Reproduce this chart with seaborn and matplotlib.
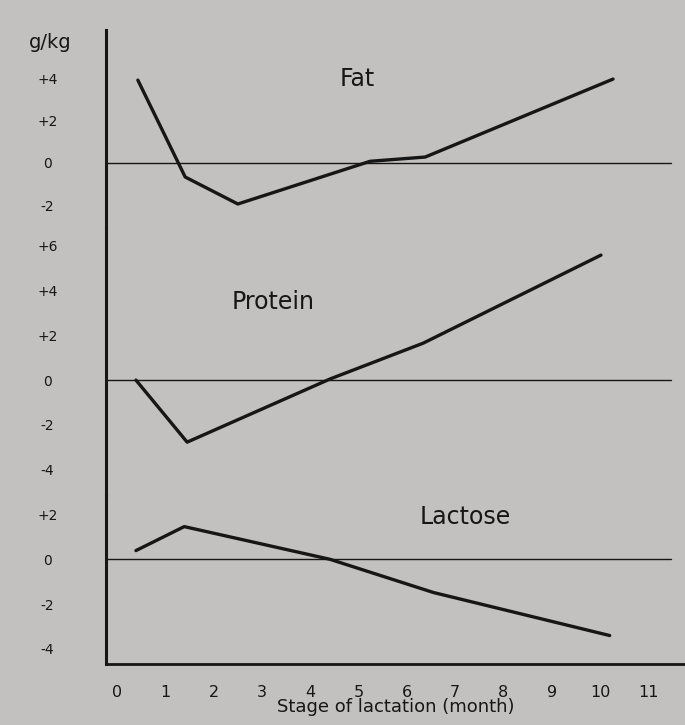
import matplotlib
matplotlib.use("Agg")
import matplotlib.pyplot as plt
import pandas as pd
import seaborn as sns

# ---- data ----
fat_months = [0.43, 1.41, 2.5, 5.24, 6.38, 10.27]
fat_values = [3.9, -0.66, -1.93, 0.08, 0.28, 3.95]

protein_months = [0.39, 1.45, 4.41, 6.34, 10.02]
protein_values = [0.0, -2.77, 0.05, 1.65, 5.58]

lactose_months = [0.39, 1.39, 4.41, 6.55, 10.2]
lactose_values = [0.39, 1.46, 0.0, -1.48, -3.4]

x_ticks = list(range(12))
x_tick_labels = [str(v) for v in x_ticks]

fat_ticks = [4, 2, 0, -2]
fat_tick_labels = ["+4", "+2", "0", "-2"]
protein_ticks = [6, 4, 2, 0, -2, -4]
protein_tick_labels = ["+6", "+4", "+2", "0", "-2", "-4"]
lactose_ticks = [2, 0, -2, -4]
lactose_tick_labels = ["+2", "0", "-2", "-4"]

panel_names = ["Fat", "Protein", "Lactose"]

# ---- style ----
sns.set_theme(style="white")
plt.rcParams["font.family"] = ["DejaVu Sans"]
bg = "#c3c1bf"
ink = "#161616"

fig = plt.figure(figsize=(6.85, 7.25), dpi=100, facecolor=bg)
gs = fig.add_gridspec(3, 1, height_ratios=[198, 267, 169], hspace=0,
                      left=106 / 685, right=1.0, top=1 - 30 / 725, bottom=1 - 664 / 725)
axes = [fig.add_subplot(gs[i]) for i in range(3)]

panels = [
    (fat_months, fat_values, fat_ticks, fat_tick_labels, (-3.06, 6.26), (4.97, 3.95)),
    (protein_months, protein_values, protein_ticks, protein_tick_labels, (-5.13, 6.79), (3.23, 3.48)),
    (lactose_months, lactose_values, lactose_ticks, lactose_tick_labels, (-4.67, 2.87), (7.2, 1.88)),
]

for i, (ax, (mx, vy, yt, ytl, ylim, lab_pos)) in enumerate(zip(axes, panels)):
    df = pd.DataFrame({"month": mx, "value": vy})
    ax.set_facecolor("none")
    ax.axhline(0, xmin=0, xmax=0.975, color=ink, lw=1.0, zorder=1)
    sns.lineplot(data=df, x="month", y="value", ax=ax, color=ink, lw=2.4,
                 sort=False, estimator=None, zorder=3)
    ax.set_xlim(-0.23, 11.76)
    ax.set_ylim(*ylim)
    ax.set_yticks(yt)
    ax.set_yticklabels(ytl, fontsize=10, color=ink, ha="center")
    ax.tick_params(axis="y", length=0, pad=42)
    ax.set_xlabel("")
    ax.set_ylabel("")
    for s in ["top", "right"]:
        ax.spines[s].set_visible(False)
    ax.spines["left"].set_color(ink)
    ax.spines["left"].set_linewidth(2.2)
    if i < 2:
        ax.spines["bottom"].set_visible(False)
        ax.set_xticks([])
    else:
        ax.spines["bottom"].set_color(ink)
        ax.spines["bottom"].set_linewidth(2.0)
        ax.set_xticks(x_ticks)
        ax.set_xticklabels(x_tick_labels, fontsize=11.5, color=ink)
        ax.tick_params(axis="x", length=0, pad=15)
        ax.set_xlabel("Stage of lactation (month)", fontsize=13, color=ink, labelpad=-1)
    ax.text(lab_pos[0], lab_pos[1], panel_names[i], fontsize=17, color=ink,
            ha="center", va="center")

fig.text(50 / 685, 1 - 42 / 725, "g/kg", fontsize=14, color=ink, ha="center", va="center")

fig.savefig("out.png", dpi=100, facecolor=bg)
